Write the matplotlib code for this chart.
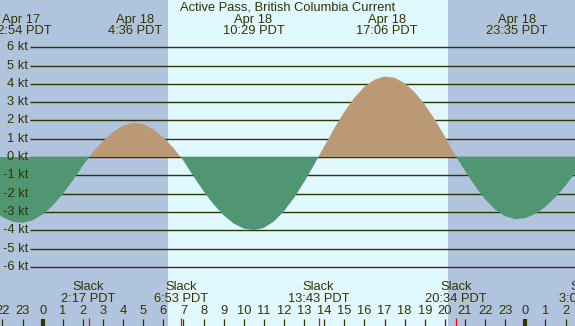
import matplotlib
matplotlib.use('Agg')
import matplotlib.pyplot as plt
import matplotlib.transforms as mtransforms
import numpy as np

plt.rcParams['font.family'] = ['Liberation Sans', 'DejaVu Sans']

# hours since Apr 18 00:00 PDT
title = 'Active Pass, British Columbia Current'

# current readings every half hour (kt), from -2.5 h to 27.0 h
hours = np.arange(-2.5, 27.01, 0.5)
speed = [-2.87, -3.29, -3.54, -3.60, -3.46, -3.14, -2.65, -2.02, -1.28, -0.47,
         0.27, 0.87, 1.37, 1.72, 1.87, 1.80, 1.52, 1.07, 0.49,
         -0.20, -1.06, -1.87, -2.59, -3.19, -3.64, -3.91, -4.00, -3.87, -3.52,
         -2.96, -2.23, -1.37, -0.42,
         0.58, 1.57, 2.47, 3.24, 3.84, 4.23, 4.40, 4.33, 4.04, 3.54, 2.87,
         2.05, 1.12, 0.13,
         -0.76, -1.59, -2.31, -2.87, -3.24, -3.40, -3.34, -3.11, -2.72, -2.20,
         -1.56, -0.84, -0.08]

# max flood / ebb events (top labels)
max_hours = [-1.1, 4.6, 10.483, 17.1, 23.583]
max_dates = ['Apr 17', 'Apr 18', 'Apr 18', 'Apr 18', 'Apr 18']
max_times = ['22:54 PDT', '4:36 PDT', '10:29 PDT', '17:06 PDT', '23:35 PDT']

# slack events (bottom labels)
slack_hours = [2.283, 6.883, 13.717, 20.567, 27.033]
slack_times = ['2:17 PDT', '6:53 PDT', '13:43 PDT', '20:34 PDT', '3:02 PDT']

sunrise = 6.24
sunset = 20.15

kt_levels = list(range(-6, 7))
hour_ticks = list(range(-2, 27))
hour_names = [str(h % 24) for h in hour_ticks]

text_color = '#333300'
night_color = '#B0C4DE'
day_color = '#E0F8FF'
flood_color = '#BB9977'
ebb_color = '#509672'
fs = 9.3

W, H = 575, 326
fig = plt.figure(figsize=(W / 100, H / 100), dpi=100)
ax = fig.add_axes([0, 0, 1, 1])
ax.set_xlim(-2.123, 26.47)
ax.set_ylim(-9.235, 8.58)
ax.axis('off')
ax.add_patch(plt.Rectangle((0, 0), 1, 1, transform=ax.transAxes,
                           color=day_color, zorder=0))

ax.axvspan(-10, sunrise, color=night_color, lw=0, zorder=1)
ax.axvspan(sunset, 40, color=night_color, lw=0, zorder=1)

# grid lines and labels
ax.hlines(kt_levels, -0.63, 30, color=text_color, lw=1.0, zorder=2)
for k in kt_levels:
    ax.text(-0.72, k, f'{k} kt', ha='right', va='center', fontsize=fs,
            color=text_color, zorder=5)

s = np.array(speed)
ax.fill_between(hours, s, 0, where=s >= 0, interpolate=True,
                color=flood_color, lw=0, zorder=3)
ax.fill_between(hours, s, 0, where=s <= 0, interpolate=True,
                color=ebb_color, lw=0, zorder=3)

trans = mtransforms.blended_transform_factory(ax.transData, ax.transAxes)

def fy(px):
    return 1 - px / H

def put(x, ypx, txt, tr=trans):
    ax.text(x, fy(ypx), txt, transform=tr, ha='center', va='center',
            fontsize=fs, color=text_color, zorder=6)

put(0.5, 7, title, ax.transAxes)
for h, d, t in zip(max_hours, max_dates, max_times):
    put(h, 19.5, d)
    put(h, 31.5, t)
for h, t in zip(slack_hours, slack_times):
    put(h, 287, 'Slack')
    put(h, 299, t)
for h, lab in zip(hour_ticks, hour_names):
    put(h, 311.5, lab)

# hour ticks
for h in hour_ticks:
    lw = 3.0 if h % 24 == 0 else 0.9
    ax.plot([h, h], [fy(326), fy(318.5)], transform=trans, color=text_color,
            lw=lw, solid_capstyle='butt', zorder=6)
for h in slack_hours:
    ax.plot([h, h], [fy(326), fy(318)], transform=trans, color='red',
            lw=0.9, solid_capstyle='butt', zorder=6)

fig.savefig('out.png', dpi=100)
